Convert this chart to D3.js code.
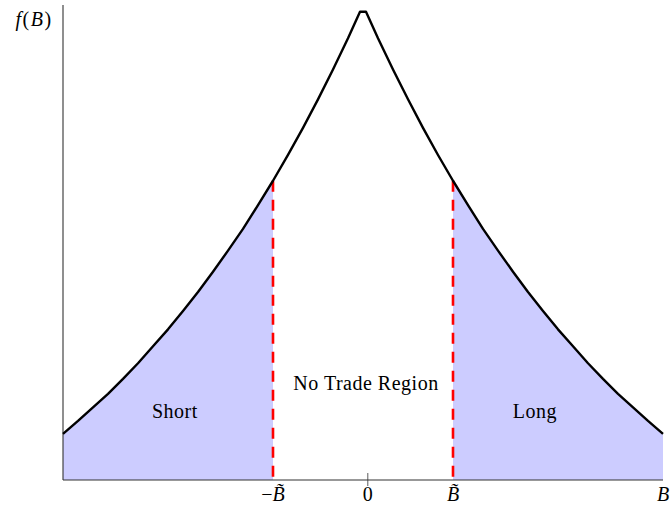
<!DOCTYPE html>
<html>
<head>
<meta charset="utf-8">
<script src="https://cdn.jsdelivr.net/npm/d3@7"></script>
<style>
  html, body { margin: 0; padding: 0; background: #fff; }
  svg { display: block; }
  text { font-family: "Liberation Serif", "DejaVu Serif", serif; fill: #000; }
</style>
</head>
<body>
<svg id="chart" width="670" height="507"></svg>
<script>
// Density f(B), sampled along B
const bValues = [-1, -0.95, -0.9, -0.85, -0.8, -0.75, -0.7, -0.65, -0.6, -0.55, -0.5,
                 -0.45, -0.4, -0.35, -0.3, -0.25, -0.2, -0.15, -0.1, -0.05, -0.01,
                 0.01, 0.05, 0.1, 0.15, 0.2, 0.25, 0.3, 0.35, 0.4, 0.45,
                 0.5, 0.55, 0.6, 0.65, 0.7, 0.75, 0.8, 0.85, 0.9, 0.95, 1];
const fValues = [0.368, 0.387, 0.407, 0.427, 0.449, 0.472, 0.497, 0.522, 0.549, 0.577, 0.607,
                 0.638, 0.670, 0.705, 0.741, 0.779, 0.819, 0.861, 0.905, 0.951, 0.990,
                 0.990, 0.951, 0.905, 0.861, 0.819, 0.779, 0.741, 0.705, 0.670, 0.638,
                 0.607, 0.577, 0.549, 0.522, 0.497, 0.472, 0.449, 0.427, 0.407, 0.387, 0.368];

// Trading threshold B~ and the density there
const threshold = 0.3;
const thresholdDensity = 0.741;

// x-axis ticks
const tickValues = [-0.3, 0.016, 0.3, 1];
const tickLabels = ["−B̃", "0", "B̃", "B"];

// Region labels
const regionNames = ["Short", "No Trade Region", "Long"];
const regionX = [-0.627, 0.01, 0.573];
const regionY = [0.4, 0.441, 0.4];

const xDomain = [-1, 1];
const yDomain = [0.3, 1];

const svg = d3.select("#chart");
const x = d3.scaleLinear().domain(xDomain).range([63, 663]);
const y = d3.scaleLinear().domain(yDomain).range([480, 5]);

const pts = bValues.map((b, i) => ({ b, f: fValues[i] }));

const area = d3.area()
  .x(d => x(d.b))
  .y0(y(yDomain[0]))
  .y1(d => y(d.f));

// shaded tails
svg.append("path")
  .datum(pts.filter(d => d.b <= -threshold))
  .attr("d", area)
  .attr("fill", "#ccccff");
svg.append("path")
  .datum(pts.filter(d => d.b >= threshold))
  .attr("d", area)
  .attr("fill", "#ccccff");

// axes
svg.append("line")
  .attr("x1", x(xDomain[0])).attr("x2", x(xDomain[0]))
  .attr("y1", y(yDomain[1])).attr("y2", y(yDomain[0]))
  .attr("stroke", "#333").attr("stroke-width", 1.1);
svg.append("line")
  .attr("x1", x(xDomain[0])).attr("x2", x(xDomain[1]))
  .attr("y1", y(yDomain[0])).attr("y2", y(yDomain[0]))
  .attr("stroke", "#333").attr("stroke-width", 1.1);

// tick mark at the origin
svg.append("line")
  .attr("x1", x(tickValues[1])).attr("x2", x(tickValues[1]))
  .attr("y1", y(yDomain[0]) - 7).attr("y2", y(yDomain[0]) + 6)
  .attr("stroke", "#333").attr("stroke-width", 0.8);

// threshold lines
[-threshold, threshold].forEach(t => {
  svg.append("line")
    .attr("x1", x(t)).attr("x2", x(t))
    .attr("y1", y(thresholdDensity)).attr("y2", y(yDomain[0]))
    .attr("stroke", "#ff0000")
    .attr("stroke-width", 2.6)
    .attr("stroke-dasharray", "11,8");
});

// density curve
svg.append("path")
  .datum(pts)
  .attr("d", d3.line().x(d => x(d.b)).y(d => y(d.f)))
  .attr("fill", "none")
  .attr("stroke", "#000")
  .attr("stroke-width", 2.4)
  .attr("stroke-linejoin", "round");

// tick labels
svg.selectAll("text.tick")
  .data(tickValues)
  .enter().append("text")
  .attr("class", "tick")
  .attr("x", d => x(d))
  .attr("y", 501)
  .attr("text-anchor", "middle")
  .attr("font-size", 20)
  .each(function(d, i) {
    const t = d3.select(this);
    const lab = tickLabels[i];
    if (lab.startsWith("−")) {
      t.append("tspan").text("−");
      t.append("tspan").attr("font-style", "italic").text(lab.slice(1));
    } else if (lab === "0") {
      t.text(lab);
    } else {
      t.append("tspan").attr("font-style", "italic").text(lab);
    }
  });

// y-axis label f(B)
const yl = svg.append("text")
  .attr("x", 34).attr("y", 26)
  .attr("text-anchor", "middle")
  .attr("font-size", 20)
  .attr("letter-spacing", 1.5);
yl.append("tspan").attr("font-style", "italic").text("f");
yl.append("tspan").text("(");
yl.append("tspan").attr("font-style", "italic").text("B");
yl.append("tspan").text(")");

// region labels
svg.selectAll("text.region")
  .data(regionNames)
  .enter().append("text")
  .attr("class", "region")
  .attr("x", (d, i) => x(regionX[i]))
  .attr("y", (d, i) => y(regionY[i]) + 6)
  .attr("text-anchor", "middle")
  .attr("font-size", 20)
  .attr("letter-spacing", 0.5)
  .text(d => d);
</script>
</body>
</html>
